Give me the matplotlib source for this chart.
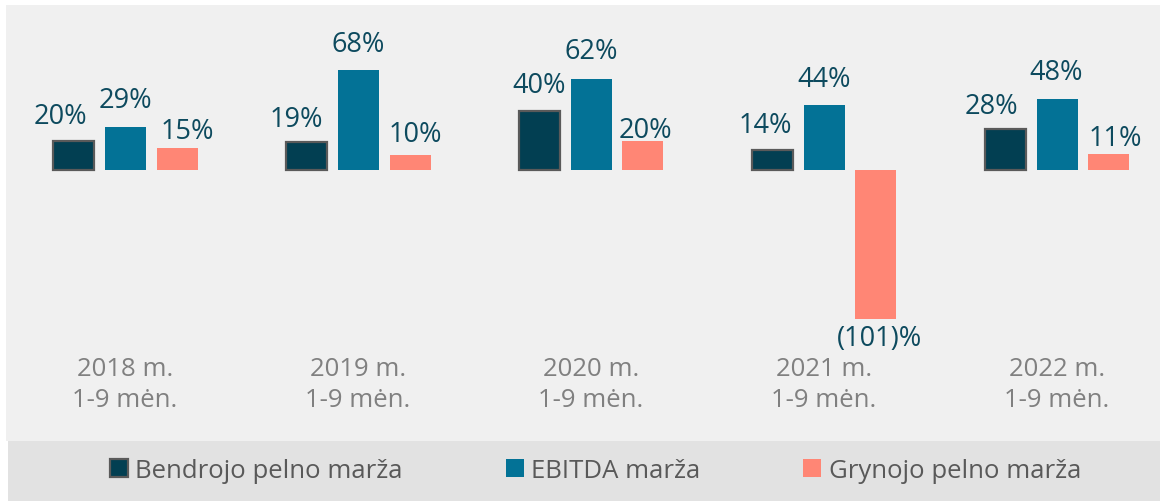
import matplotlib
matplotlib.use("Agg")
import matplotlib.pyplot as plt
from matplotlib.patches import Rectangle
import numpy as np

categories = ["2018 m.\n1-9 mėn.", "2019 m.\n1-9 mėn.", "2020 m.\n1-9 mėn.",
              "2021 m.\n1-9 mėn.", "2022 m.\n1-9 mėn."]
series_names = ["Bendrojo pelno marža", "EBITDA marža", "Grynojo pelno marža"]
gross_margin = [20, 19, 40, 14, 28]
ebitda_margin = [29, 68, 62, 44, 48]
net_margin = [15, 10, 20, -101, 11]

colors = ["#023f52", "#037296", "#ff8675"]
edges = ["#5a5a5a", "none", "none"]

# small manual label nudges (pixels: dx right, dy down), as in the original layout
label_nudge = {
    (0, 0): (-13, 1), (0, 1): (-10, 3), (0, 3): (-7, 1), (0, 4): (-14, 3),
    (1, 0): (0, -1), (1, 2): (0, -2), (1, 4): (-1, -1),
    (2, 0): (10, 9), (2, 1): (5, 5), (2, 2): (2, 15), (2, 3): (4, 0), (2, 4): (6, 10),
}

plt.rcParams['font.family'] = ['Open Sans', 'DejaVu Sans']

W, H = 1161, 502
fig = plt.figure(figsize=(W / 100, H / 100), dpi=100)
fig.patch.set_facecolor("white")

def fx(px):
    return px / W

def fy(py):
    return 1 - py / H

fig.patches.append(Rectangle((fx(6), fy(442)), fx(1160) - fx(6), fy(6) - fy(442),
                             transform=fig.transFigure, facecolor="#f0f0f0",
                             edgecolor="none", zorder=-2))
fig.patches.append(Rectangle((fx(8), 0), fx(1160) - fx(8), fy(442),
                             transform=fig.transFigure, facecolor="#e2e2e2",
                             edgecolor="none", zorder=-2))

ax = fig.add_axes([fx(6), fy(441), fx(1160) - fx(6), fy(6) - fy(441)])
ax.set_facecolor("none")
ax.set_xlim(-0.511, 4.442)
ax.set_ylim(-183, 112)
ax.axis("off")

x = np.arange(len(categories))
width = 0.176
offset = 0.223
fs = 18.5
fs_val = 19.5
pt = 0.72  # points per pixel at dpi 100
all_series = [gross_margin, ebitda_margin, net_margin]
bars = []
for k, vals in enumerate(all_series):
    lw = 1.6 if edges[k] != "none" else 0
    b = ax.bar(x + (k - 1) * offset, vals, width, color=colors[k],
               edgecolor=edges[k], linewidth=lw, label=series_names[k], zorder=2)
    bars.append(b)
    for i, (xi, v) in enumerate(zip(x + (k - 1) * offset, vals)):
        dx, dy = label_nudge.get((k, i), (0, 0))
        if v >= 0:
            ax.annotate(f"{v}%", (xi, v), xytext=(dx * pt, (19 - dy) * pt),
                        textcoords="offset points", ha="center", va="baseline",
                        fontsize=fs_val, color="#0d4a5e")
        else:
            ax.annotate(f"({abs(v)})%", (xi, v), xytext=(dx * pt, (-5 - dy) * pt),
                        textcoords="offset points", ha="center", va="top",
                        fontsize=fs_val, color="#0d4a5e")

for xi, c in zip(x, categories):
    ax.text(xi, -145, c, ha="center", va="center", fontsize=fs, color="#808080",
            linespacing=1.3)

leg = fig.legend(handles=bars, labels=series_names, loc="center",
                 bbox_to_anchor=(0.513, fy(471)), ncol=3, frameon=False,
                 fontsize=fs, handlelength=0.7, handleheight=0.7,
                 handletextpad=0.3, columnspacing=4.0)
for t in leg.get_texts():
    t.set_color("#595959")

fig.savefig("out.png", dpi=100, facecolor=fig.get_facecolor())
